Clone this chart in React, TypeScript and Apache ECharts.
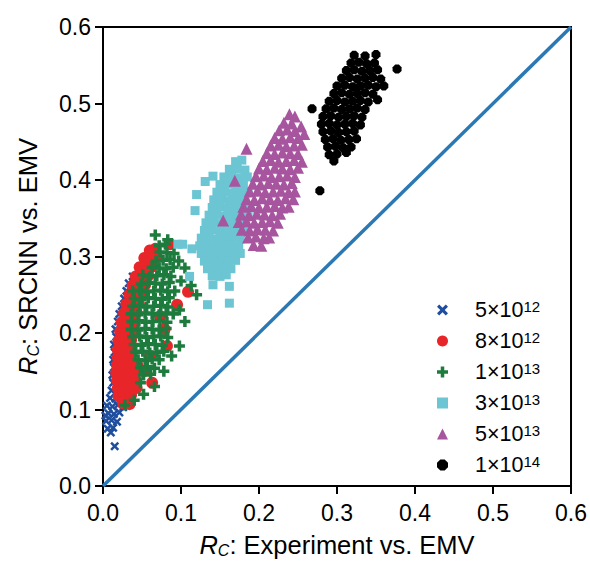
import React, { useEffect, useRef } from "react";
import * as echarts from "echarts";

// ---- data ----
const seriesNames = ["5e12", "8e12", "1e13", "3e13", "5e13", "1e14"];
const legendMantissa = ["5", "8", "1", "3", "5", "1"];
const legendExponent = ["12", "12", "13", "13", "13", "14"];

const pts5e12: number[][] = [
  [0.015, 0.052], [0.010, 0.070], [0.003, 0.092],
  [0.006, 0.075], [0.013, 0.076],
  [0.004, 0.085], [0.011, 0.086], [0.018, 0.084],
  [0.007, 0.095], [0.014, 0.094], [0.021, 0.096],
  [0.005, 0.105], [0.012, 0.104], [0.019, 0.106], [0.026, 0.103],
  [0.009, 0.115], [0.016, 0.114], [0.023, 0.116],
  [0.011, 0.125], [0.018, 0.126],
  [0.013, 0.135], [0.020, 0.134],
  [0.012, 0.145], [0.019, 0.146],
  [0.014, 0.155], [0.021, 0.154],
  [0.013, 0.165], [0.020, 0.166],
  [0.015, 0.175], [0.022, 0.174],
  [0.014, 0.185], [0.021, 0.186],
  [0.017, 0.195], [0.024, 0.194],
  [0.016, 0.205], [0.023, 0.206],
  [0.019, 0.215], [0.026, 0.214],
  [0.021, 0.225], [0.028, 0.226],
  [0.024, 0.235], [0.030, 0.234],
  [0.027, 0.245], [0.030, 0.255], [0.033, 0.265], [0.038, 0.274],
];

const pts8e12: number[][] = [
  [0.026, 0.108], [0.034, 0.107],
  [0.020, 0.118], [0.028, 0.117], [0.036, 0.119],
  [0.019, 0.128], [0.027, 0.129], [0.035, 0.127], [0.043, 0.128],
  [0.018, 0.138], [0.026, 0.137], [0.034, 0.139], [0.042, 0.138],
  [0.017, 0.148], [0.025, 0.149], [0.033, 0.147], [0.041, 0.148], [0.052, 0.150],
  [0.018, 0.158], [0.026, 0.157], [0.034, 0.159], [0.044, 0.158],
  [0.019, 0.168], [0.027, 0.169], [0.035, 0.167],
  [0.019, 0.178], [0.027, 0.177], [0.035, 0.179],
  [0.020, 0.190], [0.028, 0.189], [0.036, 0.191],
  [0.022, 0.202], [0.030, 0.201], [0.038, 0.203],
  [0.024, 0.214], [0.032, 0.213], [0.040, 0.215],
  [0.027, 0.226], [0.035, 0.225], [0.043, 0.227],
  [0.030, 0.238], [0.038, 0.237], [0.046, 0.239],
  [0.034, 0.250], [0.042, 0.249], [0.050, 0.251],
  [0.038, 0.262], [0.046, 0.261], [0.054, 0.263],
  [0.042, 0.274], [0.050, 0.273], [0.058, 0.275],
  [0.047, 0.286], [0.055, 0.285], [0.063, 0.287],
  [0.053, 0.298], [0.061, 0.297], [0.069, 0.299],
  [0.060, 0.308], [0.067, 0.310],
  [0.086, 0.316], [0.109, 0.254], [0.095, 0.237], [0.082, 0.183], [0.063, 0.135],
  [0.079, 0.205], [0.073, 0.222], [0.060, 0.170],
];

const pts1e13: number[][] = [
  [0.067, 0.328], [0.083, 0.322],
  [0.072, 0.314], [0.080, 0.316],
  [0.073, 0.306], [0.082, 0.305], [0.091, 0.304],
  [0.068, 0.294], [0.077, 0.295], [0.086, 0.296], [0.097, 0.294],
  [0.063, 0.286], [0.072, 0.285], [0.081, 0.284], [0.090, 0.286], [0.105, 0.285],
  [0.051, 0.276], [0.060, 0.274], [0.069, 0.275], [0.078, 0.276], [0.087, 0.274],
  [0.049, 0.264], [0.058, 0.266], [0.067, 0.265], [0.076, 0.264], [0.085, 0.266], [0.100, 0.268], [0.113, 0.262],
  [0.038, 0.255], [0.047, 0.256], [0.056, 0.254], [0.065, 0.255], [0.074, 0.256], [0.083, 0.254], [0.092, 0.255],
  [0.040, 0.245], [0.049, 0.244], [0.058, 0.246], [0.067, 0.245], [0.076, 0.244], [0.085, 0.246], [0.120, 0.250],
  [0.038, 0.235], [0.047, 0.236], [0.056, 0.234], [0.065, 0.235], [0.074, 0.236], [0.083, 0.234], [0.098, 0.230],
  [0.036, 0.225], [0.045, 0.224], [0.054, 0.226], [0.063, 0.225], [0.072, 0.224], [0.081, 0.226], [0.090, 0.225],
  [0.037, 0.215], [0.046, 0.216], [0.055, 0.214], [0.064, 0.215], [0.073, 0.216], [0.082, 0.214], [0.105, 0.215],
  [0.036, 0.205], [0.045, 0.204], [0.054, 0.206], [0.063, 0.205], [0.072, 0.204], [0.081, 0.206],
  [0.038, 0.195], [0.047, 0.196], [0.056, 0.194], [0.065, 0.195], [0.074, 0.196], [0.083, 0.194],
  [0.040, 0.185], [0.049, 0.184], [0.058, 0.186], [0.067, 0.185], [0.076, 0.184], [0.098, 0.183],
  [0.042, 0.175], [0.051, 0.176], [0.060, 0.174], [0.069, 0.175], [0.078, 0.176],
  [0.045, 0.165], [0.054, 0.164], [0.063, 0.166], [0.072, 0.165], [0.088, 0.170],
  [0.048, 0.155], [0.057, 0.156], [0.066, 0.154],
  [0.052, 0.145], [0.061, 0.146], [0.078, 0.150],
  [0.048, 0.135], [0.066, 0.130], [0.052, 0.120], [0.040, 0.112], [0.028, 0.106],
];

const pts3e13: number[][] = [
  [0.120, 0.381], [0.118, 0.360], [0.096, 0.316], [0.114, 0.310], [0.111, 0.274], [0.102, 0.316],
  [0.134, 0.237], [0.162, 0.239], [0.141, 0.263], [0.162, 0.261], [0.131, 0.398], [0.141, 0.405],
  [0.170, 0.424], [0.178, 0.426],
  [0.162, 0.414], [0.172, 0.415], [0.182, 0.413],
  [0.155, 0.404], [0.165, 0.405], [0.175, 0.403], [0.185, 0.404],
  [0.150, 0.394], [0.160, 0.395], [0.170, 0.393], [0.180, 0.394],
  [0.146, 0.384], [0.156, 0.385], [0.166, 0.383], [0.176, 0.384], [0.186, 0.385],
  [0.142, 0.374], [0.152, 0.375], [0.162, 0.373], [0.172, 0.374], [0.182, 0.375],
  [0.140, 0.364], [0.150, 0.365], [0.160, 0.363], [0.170, 0.364], [0.180, 0.365],
  [0.136, 0.354], [0.146, 0.355], [0.156, 0.353], [0.166, 0.354], [0.176, 0.355], [0.186, 0.353],
  [0.132, 0.344], [0.142, 0.345], [0.152, 0.343], [0.162, 0.344], [0.172, 0.345], [0.182, 0.343],
  [0.130, 0.334], [0.140, 0.335], [0.150, 0.333], [0.160, 0.334], [0.170, 0.335], [0.180, 0.333],
  [0.126, 0.324], [0.136, 0.325], [0.146, 0.323], [0.156, 0.324], [0.166, 0.325], [0.176, 0.323],
  [0.124, 0.314], [0.134, 0.315], [0.144, 0.313], [0.154, 0.314], [0.164, 0.315], [0.174, 0.313],
  [0.126, 0.304], [0.136, 0.305], [0.146, 0.303], [0.156, 0.304], [0.166, 0.305], [0.176, 0.304],
  [0.130, 0.294], [0.140, 0.295], [0.150, 0.293], [0.160, 0.294], [0.170, 0.295],
  [0.134, 0.284], [0.144, 0.285], [0.154, 0.283], [0.164, 0.284],
  [0.140, 0.275], [0.150, 0.274], [0.158, 0.276],
];

const pts5e13: number[][] = [
  [0.239, 0.486], [0.246, 0.483],
  [0.232, 0.475], [0.242, 0.474], [0.254, 0.470],
  [0.226, 0.465], [0.236, 0.466], [0.246, 0.464], [0.258, 0.460],
  [0.220, 0.455], [0.230, 0.454], [0.240, 0.456], [0.250, 0.455],
  [0.215, 0.445], [0.225, 0.446], [0.235, 0.444], [0.245, 0.445], [0.255, 0.446],
  [0.210, 0.435], [0.220, 0.434], [0.230, 0.436], [0.240, 0.435], [0.250, 0.434],
  [0.205, 0.425], [0.215, 0.426], [0.225, 0.424], [0.235, 0.425], [0.245, 0.426], [0.255, 0.424],
  [0.200, 0.415], [0.210, 0.414], [0.220, 0.416], [0.230, 0.415], [0.240, 0.414], [0.250, 0.416],
  [0.196, 0.405], [0.206, 0.406], [0.216, 0.404], [0.226, 0.405], [0.236, 0.406], [0.246, 0.404],
  [0.192, 0.395], [0.202, 0.394], [0.212, 0.396], [0.222, 0.395], [0.232, 0.394], [0.242, 0.396],
  [0.188, 0.385], [0.198, 0.386], [0.208, 0.384], [0.218, 0.385], [0.228, 0.386], [0.238, 0.384], [0.246, 0.385],
  [0.184, 0.375], [0.194, 0.374], [0.204, 0.376], [0.214, 0.375], [0.224, 0.374], [0.234, 0.376], [0.244, 0.375],
  [0.180, 0.365], [0.190, 0.366], [0.200, 0.364], [0.210, 0.365], [0.220, 0.366], [0.230, 0.364], [0.238, 0.365],
  [0.177, 0.355], [0.187, 0.354], [0.197, 0.356], [0.207, 0.355], [0.217, 0.354], [0.227, 0.356],
  [0.174, 0.345], [0.184, 0.346], [0.194, 0.344], [0.204, 0.345], [0.214, 0.346], [0.224, 0.344],
  [0.178, 0.335], [0.188, 0.334], [0.198, 0.336], [0.208, 0.335], [0.218, 0.334],
  [0.186, 0.325], [0.196, 0.326], [0.206, 0.324], [0.213, 0.325],
  [0.193, 0.315], [0.203, 0.314],
  [0.184, 0.441], [0.154, 0.347], [0.169, 0.399],
];

const pts1e14: number[][] = [
  [0.377, 0.545], [0.278, 0.386],
  [0.322, 0.563], [0.336, 0.562], [0.350, 0.564],
  [0.318, 0.553], [0.328, 0.554], [0.338, 0.552], [0.348, 0.553],
  [0.312, 0.543], [0.322, 0.544], [0.332, 0.542], [0.342, 0.543], [0.352, 0.544],
  [0.306, 0.533], [0.316, 0.534], [0.326, 0.532], [0.336, 0.533], [0.346, 0.534], [0.356, 0.532],
  [0.300, 0.523], [0.310, 0.524], [0.320, 0.522], [0.330, 0.523], [0.340, 0.524], [0.350, 0.522], [0.360, 0.523],
  [0.296, 0.513], [0.306, 0.514], [0.316, 0.512], [0.326, 0.513], [0.336, 0.514], [0.346, 0.512],
  [0.290, 0.503], [0.300, 0.504], [0.310, 0.502], [0.320, 0.503], [0.330, 0.504], [0.340, 0.502], [0.352, 0.505],
  [0.268, 0.493], [0.286, 0.493], [0.296, 0.494], [0.306, 0.492], [0.316, 0.493], [0.326, 0.494], [0.336, 0.492],
  [0.282, 0.483], [0.292, 0.484], [0.302, 0.482], [0.312, 0.483], [0.322, 0.484], [0.332, 0.482],
  [0.280, 0.473], [0.290, 0.474], [0.300, 0.472], [0.310, 0.473], [0.320, 0.474], [0.330, 0.472],
  [0.282, 0.463], [0.292, 0.464], [0.302, 0.462], [0.312, 0.463], [0.322, 0.464],
  [0.285, 0.453], [0.295, 0.454], [0.305, 0.452], [0.315, 0.453], [0.325, 0.454],
  [0.288, 0.443], [0.298, 0.444], [0.308, 0.442], [0.318, 0.443],
  [0.290, 0.433], [0.300, 0.434], [0.312, 0.436],
  [0.296, 0.425],
];

const diagonal: number[][] = [[0, 0], [0.6, 0.6]];
const axisTicks = { min: 0, max: 0.6, interval: 0.1 };

const seriesData = [pts5e12, pts8e12, pts1e13, pts3e13, pts5e13, pts1e14];
const seriesColors = ["#1f4e9e", "#e8262a", "#1e7b3e", "#6cc5d3", "#a6559e", "#000000"];
const seriesSymbols = [
  "path://M0,2L2,0L5,3L8,0L10,2L7,5L10,8L8,10L5,7L2,10L0,8L3,5Z",
  "circle",
  "path://M3.4,0H6.6V3.4H10V6.6H6.6V10H3.4V6.6H0V3.4H3.4Z",
  "rect",
  "triangle",
  "path://M3,0H7L10,3V7L7,10H3L0,7V3Z",
];
const seriesSizes = [9, 12, 11, 9, 12, 9];

const FONT = "Liberation Sans, Arial, sans-serif";

const nameRich = {
  i: { fontSize: 25.5, fontStyle: "italic", fontFamily: FONT, color: "#000" },
  s: { fontSize: 16, fontStyle: "italic", fontFamily: FONT, color: "#000", verticalAlign: "bottom", padding: [10, 0, 0, 0] },
  n: { fontSize: 25.5, fontFamily: FONT, color: "#000" },
};

export default function App() {
  const ref = useRef<HTMLDivElement>(null);
  useEffect(() => {
    if (!ref.current) return;
    const chart = echarts.init(ref.current, null, { renderer: "svg" });
    const scatter = seriesNames.map((name, i) => ({
      name,
      type: "scatter",
      data: seriesData[i],
      symbol: seriesSymbols[i],
      symbolSize: seriesSizes[i],
      itemStyle: { color: seriesColors[i], opacity: 1 },
      z: 3 + i,
    }));
    chart.setOption({
      animation: false,
      textStyle: { fontFamily: FONT },
      grid: {
        left: 103, right: 18, top: 27, bottom: 71,
        show: true, borderColor: "#000", borderWidth: 2,
      },
      legend: {
        orient: "vertical",
        left: 432,
        top: 294,
        itemWidth: 11,
        itemHeight: 11,
        itemGap: 9,
        data: seriesNames,
        formatter: (name: string) => {
          const i = seriesNames.indexOf(name);
          return `{m|${legendMantissa[i]}×10}{e|${legendExponent[i]}}`;
        },
        textStyle: {
          fontFamily: FONT,
          rich: {
            m: { fontSize: 21.5, fontFamily: FONT, color: "#000", lineHeight: 22, padding: [0, 0, 0, 22] },
            e: { fontSize: 15, fontFamily: FONT, color: "#000", lineHeight: 22, verticalAlign: "top" },
          },
        },
      },
      xAxis: {
        type: "value",
        ...axisTicks,
        name: "{i|R}{s|C}{n|: Experiment vs. EMV}",
        nameLocation: "middle",
        nameGap: 46,
        nameTextStyle: { rich: nameRich },
        axisLine: { lineStyle: { color: "#000", width: 2 } },
        axisTick: { length: 8, lineStyle: { color: "#000", width: 2 } },
        axisLabel: { fontSize: 23, color: "#000", margin: 15, fontFamily: FONT, formatter: (v: number) => v.toFixed(1) },
        splitLine: { show: false },
      },
      yAxis: {
        type: "value",
        ...axisTicks,
        name: "{i|R}{s|C}{n|: SRCNN vs. EMV}",
        nameLocation: "middle",
        nameGap: 62,
        nameTextStyle: { rich: nameRich },
        axisLine: { lineStyle: { color: "#000", width: 2 } },
        axisTick: { length: 8, lineStyle: { color: "#000", width: 2 } },
        axisLabel: { fontSize: 23, color: "#000", margin: 12, fontFamily: FONT, formatter: (v: number) => v.toFixed(1) },
        splitLine: { show: false },
      },
      series: [
        {
          name: "diag",
          type: "line",
          data: diagonal,
          symbol: "none",
          lineStyle: { color: "#2a78b4", width: 3.5 },
          z: 2,
        },
        ...scatter,
      ],
    });
    return () => chart.dispose();
  }, []);
  return <div ref={ref} style={{ position: "absolute", left: 0, top: 0, width: 590, height: 563 }} />;
}
